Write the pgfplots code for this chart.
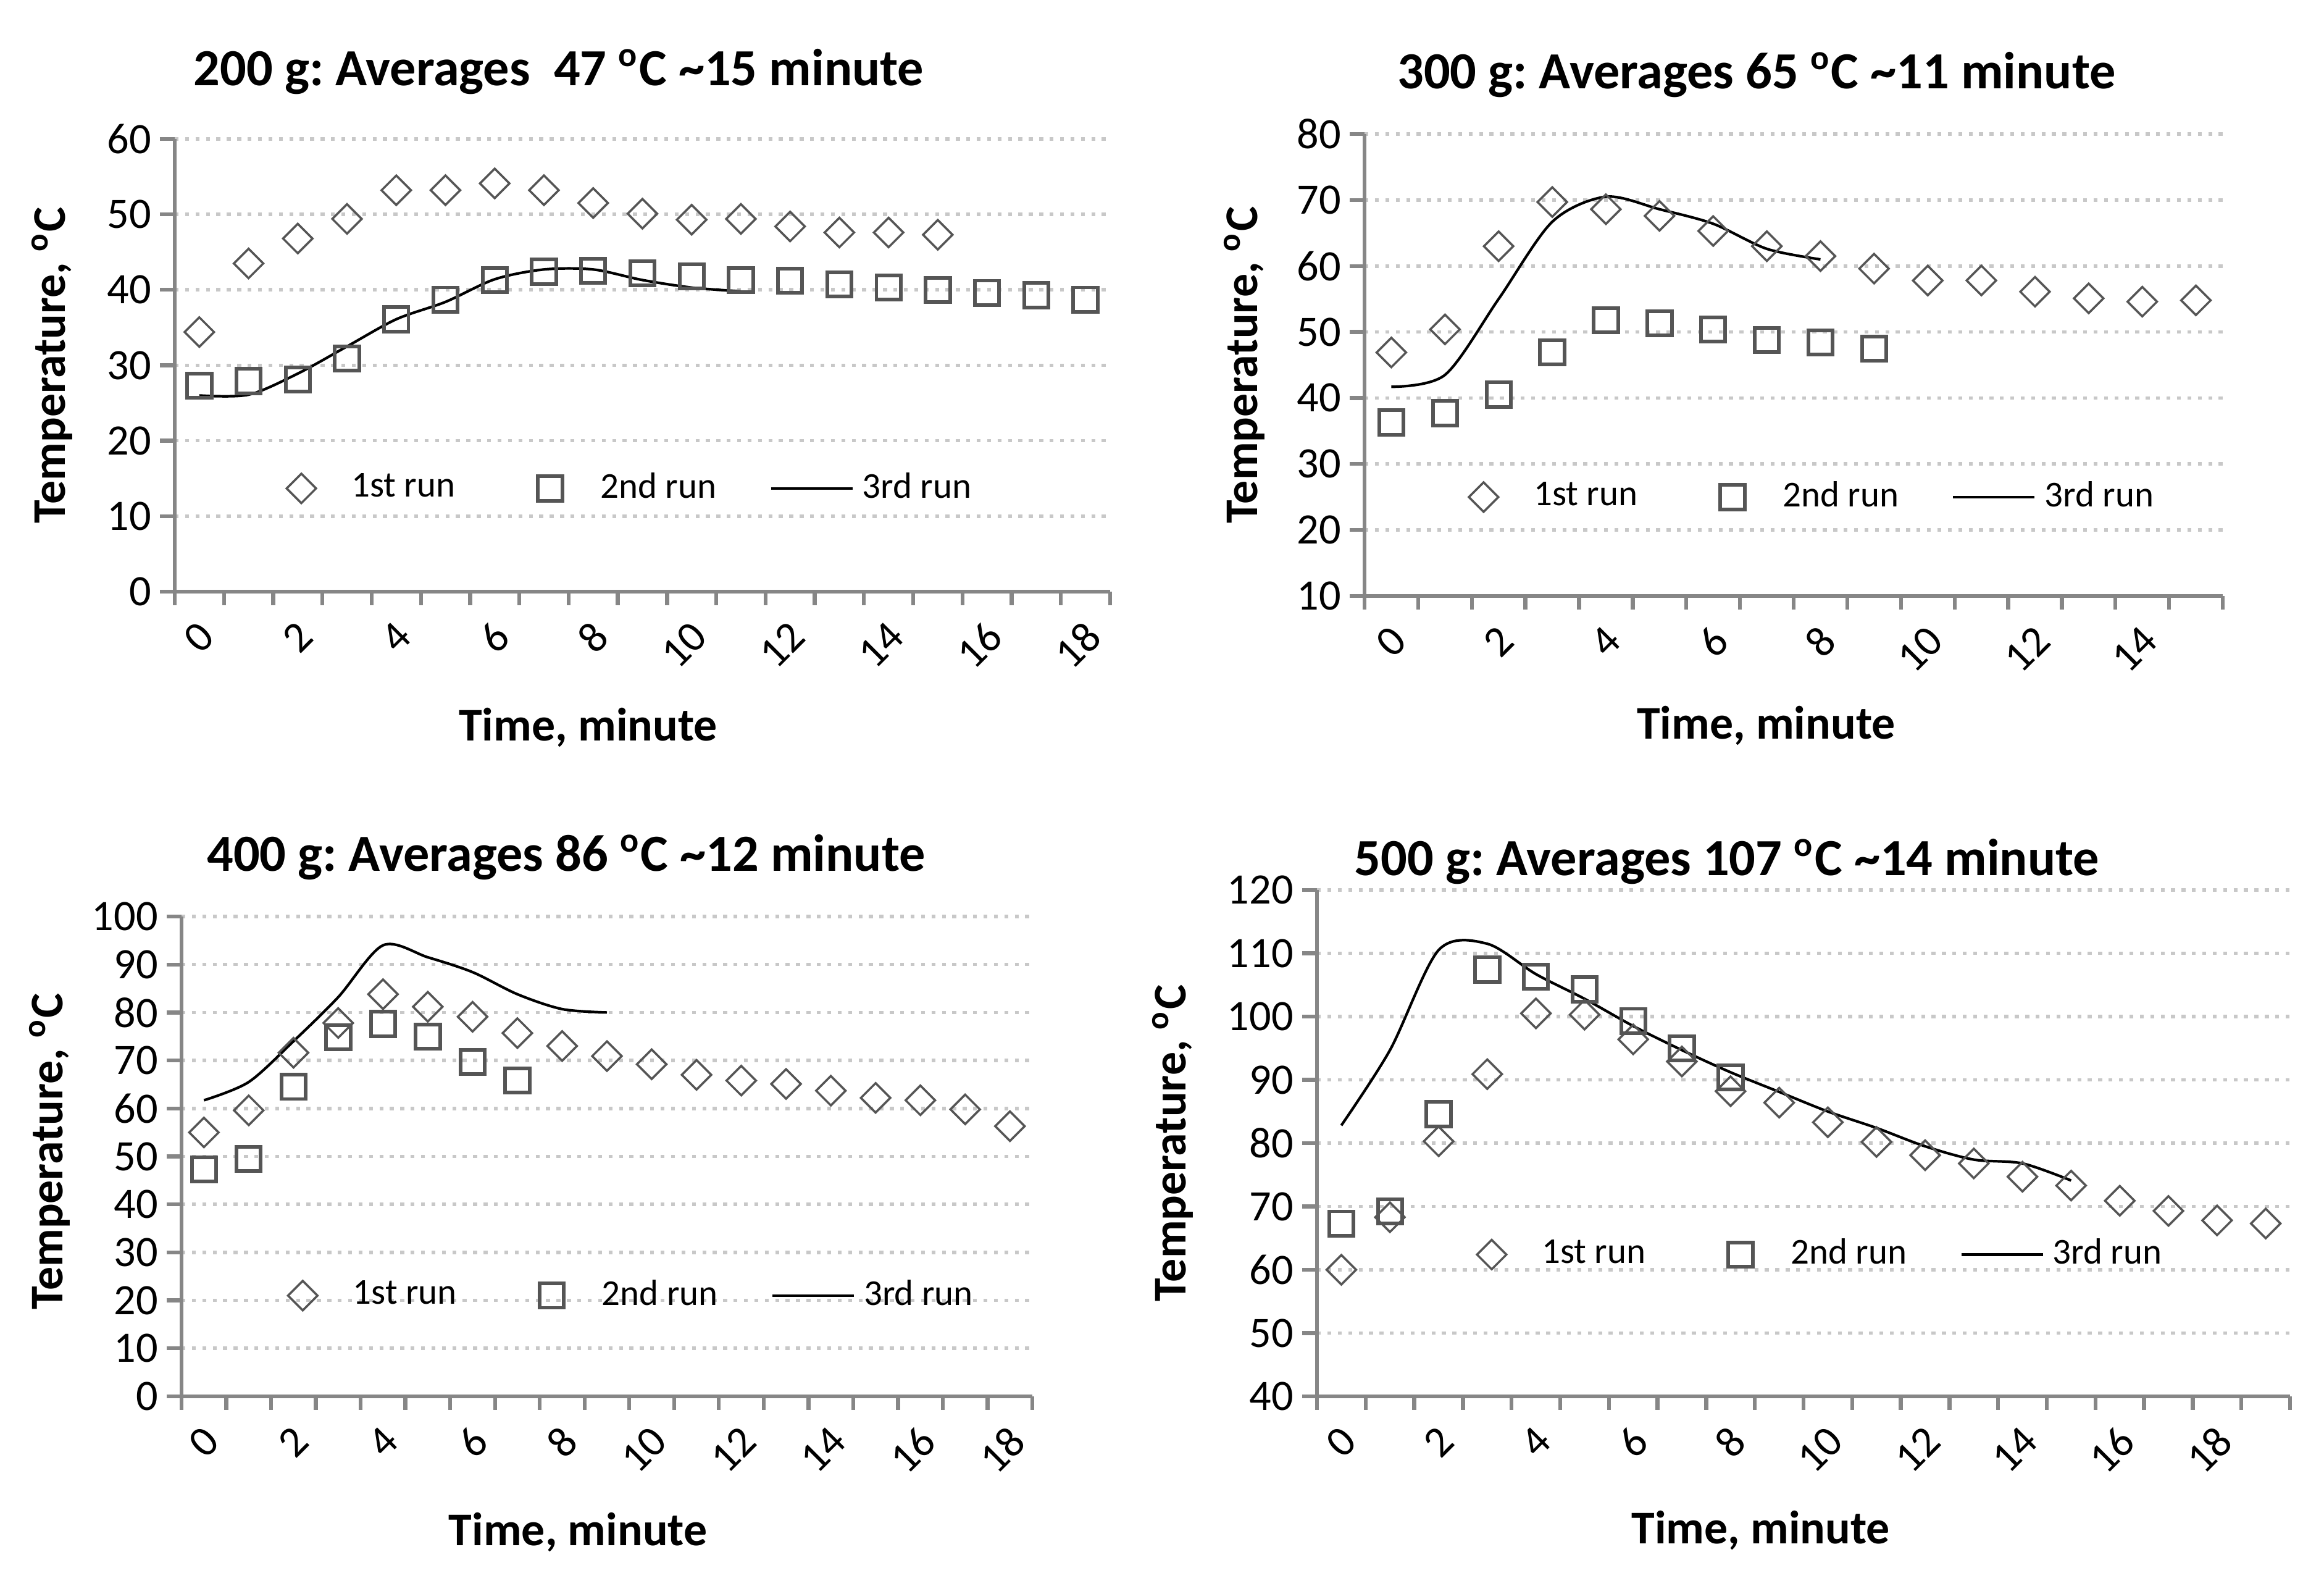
\documentclass[border=0pt]{standalone}
\usepackage{fontspec}
\setmainfont{Carlito}
\usepackage{pgfplots}
\pgfplotsset{compat=1.18}
\frenchspacing

\definecolor{axisgray}{RGB}{134,134,134}
\definecolor{gridgray}{RGB}{200,200,200}
\definecolor{markgray}{RGB}{85,85,85}

\pgfplotsset{
  runchart/.style={
    scale only axis,
    anchor=south west,
    clip=false,
    axis x line*=bottom,
    axis y line*=left,
    axis line style={axisgray, line width=0.9pt},
    tick align=outside,
    major tick length=0.12cm,
    minor tick length=0.11cm,
    every tick/.style={axisgray, line width=0.9pt},
    every major x tick/.append style={draw=none},
    ymajorgrids,
    major grid style={gridgray, line width=0.8pt, dash pattern=on 0.9pt off 1.5pt},
    ticklabel style={font=\fontsize{10}{12}\selectfont},
    /pgf/number format/assume math mode=true,
    xticklabel style={rotate=45, anchor=east, yshift=-5pt, xshift=1pt},
    yticklabel style={xshift=1.5pt},
    label style={font=\bfseries\fontsize{10.8}{12}\selectfont},
    xlabel={Time, minute},
    ylabel={Temperature, \textsuperscript{o}C},
    legend columns=3,
    legend cell align=left,
    legend style={draw=none, fill=none, anchor=center,
      font=\fontsize{8.4}{10}\selectfont,
      /tikz/every even column/.append style={column sep=0.36cm}},
  },
  markkey/.style={legend image code/.code={%
    \path (0cm,0cm) (0.66cm,0cm);
    \draw[##1] plot coordinates {(0.33cm,0cm)};}},
  run1/.style={only marks, mark=square, mark size=2.4pt,
    mark options={rotate=45, draw=markgray, line width=0.5pt}, markkey},
  run2/.style={only marks, mark=square, mark size=2.8pt,
    mark options={draw=markgray, line width=0.85pt}, markkey},
  run3/.style={smooth, black, line width=0.6pt, no marks,
    legend image code/.code={\draw[##1] (0cm,0cm) -- (0.66cm,0cm);}},
}

\begin{document}
\begin{tikzpicture}
\path[use as bounding box] (0,0) rectangle (18.82,12.735);

% 200 g
\begin{axis}[runchart, at={(1.415cm,7.945cm)}, width=7.575cm, height=3.665cm,
  xmin=-0.5, xmax=18.5, ymin=0, ymax=60, ytick={0,10,...,60},
  xtick={0,2,...,18}, minor xtick={-0.5,0.5,...,18.5},
  xlabel style={at={(axis description cs:0.442,-0.300)}, anchor=center},
  ylabel style={at={(axis description cs:-0.131,0.5)}, anchor=center},
  legend style={at={(axis description cs:0.476,0.228)}}]
\addplot[run1] coordinates {(0,34.4)(1,43.5)(2,46.8)(3,49.4)(4,53.2)(5,53.2)(6,54.1)(7,53.2)(8,51.5)(9,50.1)(10,49.3)(11,49.4)(12,48.4)(13,47.6)(14,47.6)(15,47.3)};
\addplot[run2] coordinates {(0,27.3)(1,27.9)(2,28.1)(3,30.9)(4,36.1)(5,38.7)(6,41.3)(7,42.4)(8,42.5)(9,42.2)(10,41.8)(11,41.3)(12,41.2)(13,40.7)(14,40.3)(15,40.0)(16,39.6)(17,39.3)(18,38.7)};
\addplot[run3] coordinates {(0,26.0)(1,26.1)(2,28.9)(3,32.5)(4,36.1)(5,38.4)(6,41.4)(7,42.7)(8,42.7)(9,41.3)(10,40.3)(11,39.8)};
\legend{1st run, 2nd run, 3rd run}
\end{axis}

% 300 g
\begin{axis}[runchart, at={(11.05cm,7.91cm)}, width=6.95cm, height=3.74cm,
  xmin=-0.5, xmax=15.5, ymin=10, ymax=80, ytick={10,20,...,80},
  xtick={0,2,...,14}, minor xtick={-0.5,0.5,...,15.5},
  xlabel style={at={(axis description cs:0.468,-0.281)}, anchor=center},
  ylabel style={at={(axis description cs:-0.140,0.5)}, anchor=center},
  legend style={at={(axis description cs:0.51,0.214)}}]
\addplot[run1] coordinates {(0,46.9)(1,50.4)(2,63.0)(3,69.7)(4,68.6)(5,67.6)(6,65.3)(7,63.0)(8,61.5)(9,59.6)(10,57.8)(11,57.8)(12,56.1)(13,55.1)(14,54.6)(15,54.8)};
\addplot[run2] coordinates {(0,36.3)(1,37.7)(2,40.5)(3,46.9)(4,51.8)(5,51.3)(6,50.4)(7,48.8)(8,48.4)(9,47.5)};
\addplot[run3] coordinates {(0,41.7)(1,43.5)(2,55.0)(3,66.7)(4,70.5)(5,68.6)(6,66.4)(7,62.6)(8,61.0)};
\legend{1st run, 2nd run, 3rd run}
\end{axis}

% 400 g
\begin{axis}[runchart, at={(1.47cm,1.43cm)}, width=6.89cm, height=3.885cm,
  xmin=-0.5, xmax=18.5, ymin=0, ymax=100, ytick={0,10,...,100},
  xtick={0,2,...,18}, minor xtick={-0.5,0.5,...,18.5},
  xlabel style={at={(axis description cs:0.466,-0.283)}, anchor=center},
  ylabel style={at={(axis description cs:-0.155,0.51)}, anchor=center},
  legend style={at={(axis description cs:0.517,0.21)}}]
\addplot[run1] coordinates {(0,55.0)(1,59.6)(2,71.6)(3,77.8)(4,83.8)(5,81.2)(6,79.1)(7,75.7)(8,73.0)(9,70.9)(10,69.2)(11,67.0)(12,65.8)(13,65.1)(14,63.7)(15,62.2)(16,61.7)(17,59.8)(18,56.3)};
\addplot[run2] coordinates {(0,47.3)(1,49.5)(2,64.5)(3,74.8)(4,77.6)(5,75.0)(6,69.7)(7,65.8)};
\addplot[run3] coordinates {(0,61.7)(1,65.5)(2,74.0)(3,83.2)(4,94.0)(5,91.5)(6,88.4)(7,83.8)(8,80.7)(9,80.0)};
\legend{1st run, 2nd run, 3rd run}
\end{axis}

% 500 g
\begin{axis}[runchart, at={(10.665cm,1.43cm)}, width=7.88cm, height=4.1cm,
  xmin=-0.5, xmax=19.5, ymin=40, ymax=120, ytick={40,50,...,120},
  xtick={0,2,...,18}, minor xtick={-0.5,0.5,...,19.5},
  xlabel style={at={(axis description cs:0.456,-0.265)}, anchor=center},
  ylabel style={at={(axis description cs:-0.148,0.5)}, anchor=center},
  legend style={at={(axis description cs:0.507,0.28)}}]
\addplot[run1] coordinates {(0,60.0)(1,68.3)(2,80.3)(3,90.9)(4,100.5)(5,100.3)(6,96.4)(7,92.9)(8,88.2)(9,86.4)(10,83.3)(11,80.2)(12,78.1)(13,76.8)(14,74.7)(15,73.3)(16,70.9)(17,69.3)(18,67.8)(19,67.3)};
\addplot[run2] coordinates {(0,67.3)(1,69.2)(2,84.6)(3,107.4)(4,106.3)(5,104.3)(6,99.3)(7,95.0)(8,90.4)};
\addplot[run3] coordinates {(0,82.8)(1,94.7)(2,110.5)(3,111.5)(4,106.7)(5,102.8)(6,98.5)(7,94.7)(8,91.2)(9,88.1)(10,85.0)(11,82.4)(12,79.5)(13,77.4)(14,76.8)(15,74.1)};
\legend{1st run, 2nd run, 3rd run}
\end{axis}

\begin{scope}[every node/.style={font=\bfseries\fontsize{12}{14}\selectfont, anchor=center}]
\node at (4.525,12.155) {200 g: Averages\ \ 47 \textsuperscript{o}C \textasciitilde15 minute};
\node at (14.225,12.13) {300 g: Averages 65 \textsuperscript{o}C \textasciitilde11 minute};
\node at (4.585,5.795) {400 g: Averages 86 \textsuperscript{o}C \textasciitilde12 minute};
\node at (13.985,5.76) {500 g: Averages 107 \textsuperscript{o}C \textasciitilde14 minute};
\end{scope}
\end{tikzpicture}
\end{document}
